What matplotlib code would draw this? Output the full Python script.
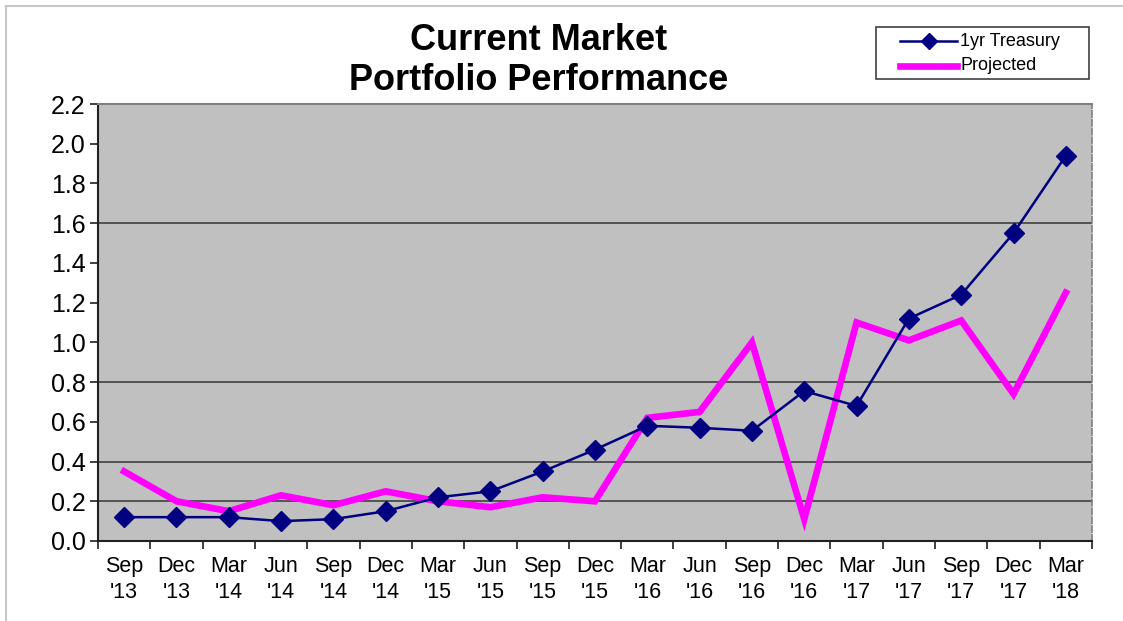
import matplotlib
matplotlib.use('Agg')
import matplotlib.pyplot as plt
from matplotlib.lines import Line2D
from matplotlib.patches import Rectangle

plt.rcParams['font.family'] = ['Liberation Sans', 'DejaVu Sans']

quarters = ["Sep\n'13", "Dec\n'13", "Mar\n'14", "Jun\n'14", "Sep\n'14", "Dec\n'14",
            "Mar\n'15", "Jun\n'15", "Sep\n'15", "Dec\n'15", "Mar\n'16", "Jun\n'16",
            "Sep\n'16", "Dec\n'16", "Mar\n'17", "Jun\n'17", "Sep\n'17", "Dec\n'17",
            "Mar\n'18"]
treasury = [0.12, 0.12, 0.12, 0.10, 0.11, 0.15, 0.22, 0.25, 0.35, 0.46,
            0.58, 0.57, 0.555, 0.755, 0.68, 1.12, 1.24, 1.55, 1.94]
projected = [0.35, 0.20, 0.15, 0.23, 0.18, 0.25, 0.20, 0.17, 0.22, 0.20,
             0.62, 0.65, 1.00, 0.11, 1.10, 1.01, 1.11, 0.74, 1.25]
grid_levels = [0.2, 0.4, 0.8, 1.6]

W, H = 1123, 621
fig = plt.figure(figsize=(W / 100, H / 100), dpi=100)
ax = fig.add_axes([98 / W, 1 - 541 / H, 994 / W, 437 / H])
ax.set_facecolor('#C0C0C0')

navy = '#000080'
magenta = '#FF00FF'

x = list(range(len(quarters)))
ax.plot(x, projected, color=magenta, lw=4.8, solid_joinstyle='miter', zorder=3)
ax.plot(x, treasury, color=navy, lw=1.8, marker='D', ms=10, zorder=4)

for g in grid_levels:
    ax.axhline(g, color='#404040', lw=1.2, zorder=1)

ax.set_xlim(-0.5, len(quarters) - 0.5)
ax.set_ylim(0, 2.2)
ax.set_yticks([i * 0.2 for i in range(12)])
ax.set_yticklabels([f'{i * 0.2:.1f}' for i in range(12)], fontsize=18)
ax.set_xticks(x)
ax.set_xticklabels(quarters, fontsize=15.5, linespacing=1.3)
ax.set_xticks([i - 0.5 for i in range(len(quarters) + 1)], minor=True)
ax.tick_params(axis='x', which='major', length=0, pad=11)
ax.tick_params(axis='x', which='minor', length=6, width=1.2, color='#202020')
ax.tick_params(axis='y', length=6, width=1.2, color='#202020', pad=3)

ax.spines['left'].set_color('#202020')
ax.spines['left'].set_linewidth(1.5)
ax.spines['bottom'].set_color('#202020')
ax.spines['bottom'].set_linewidth(1.5)
ax.spines['top'].set_color('#808080')
ax.spines['top'].set_linewidth(1.5)
ax.spines['right'].set_color('#808080')
ax.spines['right'].set_linestyle('--')
ax.spines['right'].set_linewidth(1.2)

fig.text(539 / W, 1 - 41 / H, 'Current Market', ha='center', va='center', fontsize=26, fontweight='bold')
fig.text(539 / W, 1 - 81 / H, 'Portfolio Performance', ha='center', va='center', fontsize=26, fontweight='bold')

# legend box drawn by hand to match the spacing of the original
fig.add_artist(Rectangle((876 / W, 1 - 79 / H), 213 / W, 52 / H, transform=fig.transFigure,
                         facecolor='white', edgecolor='#404040', lw=1.2))
y1 = 1 - 41 / H
y2 = 1 - 66 / H
fig.add_artist(Line2D([900 / W, 957 / W], [y1, y1], transform=fig.transFigure, color=navy, lw=1.8))
fig.add_artist(Line2D([928.5 / W], [y1], transform=fig.transFigure, color=navy, lw=0, marker='D', ms=8))
fig.add_artist(Line2D([900 / W, 957 / W], [y2, y2], transform=fig.transFigure, color=magenta, lw=4.8))
fig.text(960 / W, y1, '1yr Treasury', ha='left', va='center', fontsize=13)
fig.text(960 / W, y2, 'Projected', ha='left', va='center', fontsize=13)

# outer chart border (top and left only visible)
fig.add_artist(Line2D([6 / W, 1.0], [1 - 6 / H, 1 - 6 / H], color='#C8C8C8', lw=1.5))
fig.add_artist(Line2D([6 / W, 6 / W], [0.0, 1 - 6 / H], color='#C8C8C8', lw=1.5))

fig.savefig('out.png', dpi=100)
